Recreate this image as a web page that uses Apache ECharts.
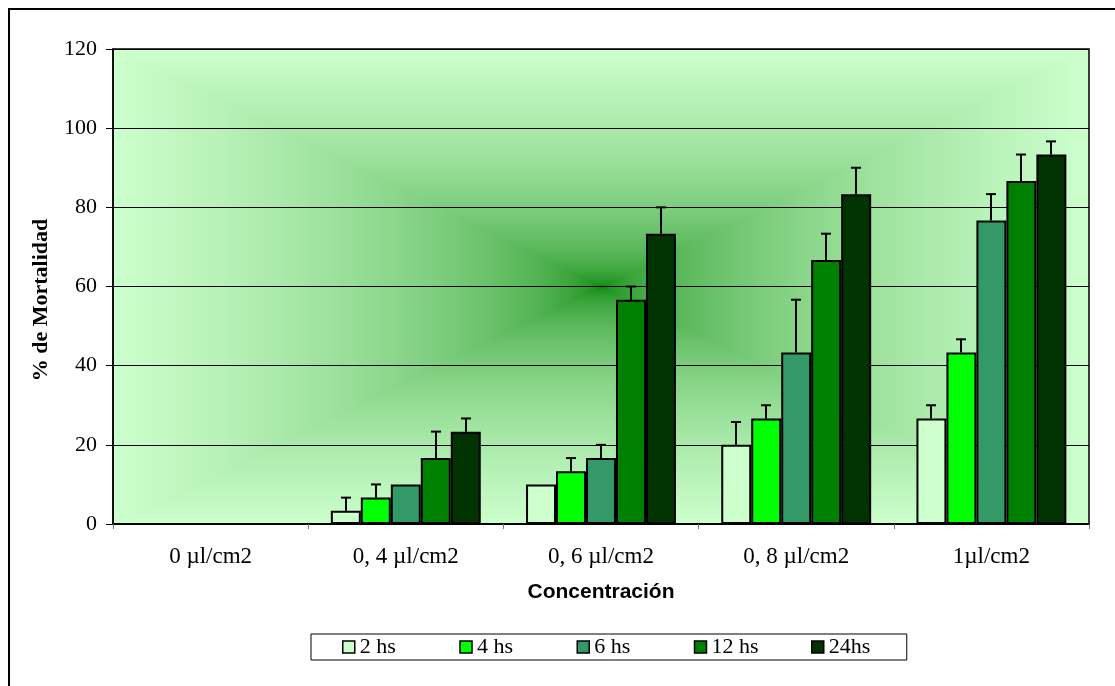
<!DOCTYPE html>
<html>
<head>
<meta charset="utf-8">
<script src="https://cdn.jsdelivr.net/npm/echarts@6/dist/echarts.min.js"></script>
<style>
  html, body { margin: 0; padding: 0; background: #fff; }
  #main { width: 1115px; height: 686px; }
</style>
</head>
<body>
<div id="main"></div>
<script>
// categorias y series
var categories = ['0 µl/cm2', '0, 4 µl/cm2', '0, 6 µl/cm2', '0, 8 µl/cm2', '1µl/cm2']
var seriesNames = ['2 hs', '4 hs', '6 hs', '12 hs', '24hs']
var yTicks = [0, 20, 40, 60, 80, 100, 120]

// % de mortalidad (media) por tiempo
var mort2 = [0, 3.33, 10, 20, 26.67]
var mort4 = [0, 6.67, 13.33, 26.67, 43.33]
var mort6 = [0, 10, 16.67, 43.33, 76.67]
var mort12 = [0, 16.67, 56.67, 66.67, 86.67]
var mort24 = [0, 23.33, 73.33, 83.33, 93.33]

// barras de error (+)
var err2 = [0, 3.33, 0, 5.77, 3.33]
var err4 = [0, 3.33, 3.33, 3.33, 3.33]
var err6 = [0, 0, 3.33, 13.33, 6.67]
var err12 = [0, 6.67, 3.33, 6.67, 6.67]
var err24 = [0, 3.33, 6.67, 6.67, 3.33]

var means = [mort2, mort4, mort6, mort12, mort24]
var errs = [err2, err4, err6, err12, err24]
var colors = ['#CCFFCC', '#00FF00', '#339966', '#008000', '#003300']

var W = 1115, H = 686
var gridL = 113, gridT = 49, gridR = 1089, gridB = 524
var catGap = 0.232

// fondo degradado "desde el centro" (rectangular) como en Excel
function makeBackground () {
  var cv = document.createElement('canvas')
  cv.width = W
  cv.height = H
  var ctx = cv.getContext('2d')
  var img = ctx.createImageData(W, H)
  var cx = (gridL + gridR) / 2, cy = (gridT + gridB) / 2
  var hw = (gridR - gridL) / 2, hh = (gridB - gridT) / 2
  var c0 = [0, 128, 0], c1 = [204, 255, 204]
  for (var y = gridT; y <= gridB; y++) {
    for (var x = gridL; x <= gridR; x++) {
      var t = Math.max(Math.abs(x - cx) / hw, Math.abs(y - cy) / hh)
      var f = Math.pow(Math.min(t, 1), 0.45)
      var p = (y * W + x) * 4
      img.data[p] = c0[0] + (c1[0] - c0[0]) * f
      img.data[p + 1] = c0[1] + (c1[1] - c0[1]) * f
      img.data[p + 2] = c0[2] + (c1[2] - c0[2]) * f
      img.data[p + 3] = 255
    }
  }
  ctx.putImageData(img, 0, 0)
  return cv
}

var serif = 'Liberation Serif'
var seriesList = []

seriesNames.forEach(function (name, k) {
  seriesList.push({
    name: name,
    type: 'bar',
    data: means[k],
    barGap: '0%',
    barCategoryGap: (catGap * 100) + '%',
    itemStyle: { color: colors[k], borderColor: '#000', borderWidth: 2 },
    emphasis: { disabled: true }
  })
})

seriesNames.forEach(function (name, k) {
  seriesList.push({
    name: name + ' err',
    type: 'custom',
    z: 3,
    data: categories.map(function (c, i) { return [i, means[k][i], means[k][i] + errs[k][i]] }),
    renderItem: function (params, api) {
      if (api.value(2) <= api.value(1)) return null
      var band = api.size([1, 0])[0]
      var barW = band * (1 - catGap) / 5
      var base = api.coord([api.value(0), api.value(1)])
      var top = api.coord([api.value(0), api.value(2)])
      var x = Math.round(base[0] + (k - 2) * barW)
      var st = { stroke: '#000', lineWidth: 2 }
      return {
        type: 'group',
        children: [
          { type: 'line', shape: { x1: x, y1: base[1], x2: x, y2: top[1] }, style: st },
          { type: 'line', shape: { x1: x - 5, y1: top[1], x2: x + 5, y2: top[1] }, style: st }
        ]
      }
    }
  })
})

var myChart = echarts.init(document.getElementById('main'))
var option = {
  animation: false,
  backgroundColor: '#fff',
  graphic: [{
    type: 'rect',
    shape: { x: 9, y: 9, width: 1130, height: 700 },
    style: { fill: 'none', stroke: '#000', lineWidth: 2 },
    silent: true
  }],
  grid: {
    left: gridL,
    top: gridT,
    right: W - gridR,
    bottom: H - gridB,
    outerBoundsMode: 'none',
    show: true,
    borderColor: '#000',
    borderWidth: 1.5,
    backgroundColor: { image: makeBackground(), repeat: 'no-repeat' }
  },
  legend: {
    data: seriesNames,
    left: 311,
    top: 634,
    orient: 'horizontal',
    backgroundColor: '#fff',
    borderColor: '#000',
    borderWidth: 1,
    borderRadius: 0,
    padding: [2, 8, 2, 31],
    itemWidth: 12,
    itemHeight: 12,
    itemGap: 29.5,
    icon: 'rect',
    itemStyle: { borderColor: '#000', borderWidth: 1.5 },
    formatter: function (name) { return '{w|' + name + '}' },
    textStyle: {
      fontFamily: serif, fontSize: 22, color: '#000',
      rich: { w: { width: 70, fontFamily: serif, fontSize: 22, lineHeight: 23, color: '#000' } }
    },
    selectedMode: false
  },
  xAxis: {
    type: 'category',
    data: categories,
    name: 'Concentración',
    nameLocation: 'middle',
    nameGap: 58,
    nameTextStyle: { fontFamily: 'Liberation Sans', fontWeight: 'bold', fontSize: 21, color: '#000' },
    axisLine: { lineStyle: { color: '#000', width: 2 } },
    axisTick: { show: true, length: 5, lineStyle: { color: '#777' } },
    axisLabel: { fontFamily: serif, fontSize: 23, color: '#000', margin: 21 }
  },
  yAxis: {
    type: 'value',
    min: yTicks[0],
    max: yTicks[yTicks.length - 1],
    interval: yTicks[1] - yTicks[0],
    name: '% de Mortalidad',
    nameLocation: 'middle',
    nameGap: 61,
    nameTextStyle: { fontFamily: serif, fontWeight: 'bold', fontSize: 22, color: '#000', padding: [0, 27, 0, 0] },
    axisLine: { show: true, lineStyle: { color: '#000', width: 1.5 } },
    axisTick: { show: true, length: 7, lineStyle: { color: '#000' } },
    axisLabel: { fontFamily: serif, fontSize: 22, color: '#000', margin: 16 },
    splitLine: { show: true, lineStyle: { color: '#000', width: 1 } }
  },
  series: seriesList
}
myChart.setOption(option)
</script>
</body>
</html>
